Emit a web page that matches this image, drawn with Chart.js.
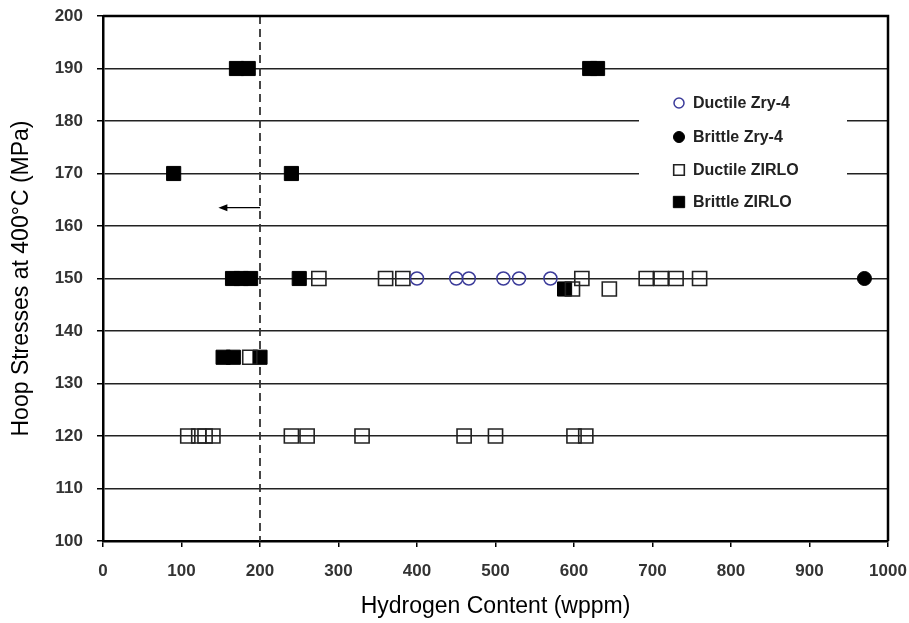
<!DOCTYPE html>
<html>
<head>
<meta charset="utf-8">
<title>Hoop stress vs hydrogen content</title>
<script src="https://cdn.jsdelivr.net/npm/chart.js@4/dist/chart.umd.min.js"></script>
<style>
  body { margin: 0; background: #fff; }
  #chart { display: block; }
</style>
</head>
<body>
<canvas id="chart" width="909" height="623"></canvas>
<script>
// ===== DATA =====
const xTicks = [0, 100, 200, 300, 400, 500, 600, 700, 800, 900, 1000];
const yTicks = [100, 110, 120, 130, 140, 150, 160, 170, 180, 190, 200];

// Ductile Zry-4 (open blue circles)
const ductileZry4H = [400, 450, 466, 510, 530, 570];
const ductileZry4S = [150, 150, 150, 150, 150, 150];

// Brittle Zry-4 (filled circle)
const brittleZry4H = [970];
const brittleZry4S = [150];

// Ductile ZIRLO (open squares)
const ductileZirloH = [275, 360, 382, 610, 692, 711, 730, 760, 598, 645, 187,
                       108, 122, 130, 140, 240, 260, 330, 460, 500, 600, 615];
const ductileZirloS = [150, 150, 150, 150, 150, 150, 150, 150, 148, 148, 135,
                       120, 120, 120, 120, 120, 120, 120, 120, 120, 120, 120];

// Brittle ZIRLO (filled squares)
const brittleZirloH = [170, 185, 620, 630, 90, 240, 165, 176, 188, 250, 588, 153, 166, 200];
const brittleZirloS = [190, 190, 190, 190, 170, 170, 150, 150, 150, 150, 148, 135, 135, 135];

// threshold line and arrow annotation
const thresholdH = 200;
const arrowFromH = 200;
const arrowToH = 147;
const arrowS = 163.5;

function toPoints(xs, ys) {
    return xs.map((x, i) => ({ x: x, y: ys[i] }));
}

// ===== PLUGINS =====
// dashed 200 wppm line, the arrow, and the frame on top/right
const annotations = {
    id: 'annotations',
    beforeDatasetsDraw(chart) {
        const { ctx, chartArea, scales } = chart;
        const x = scales.x.getPixelForValue(thresholdH);
        ctx.save();
        ctx.strokeStyle = '#333';
        ctx.lineWidth = 1.8;
        ctx.setLineDash([8, 5]);
        ctx.beginPath();
        ctx.moveTo(x, chartArea.top);
        ctx.lineTo(x, chartArea.bottom);
        ctx.stroke();
        ctx.setLineDash([]);

        // arrow pointing left
        const x0 = scales.x.getPixelForValue(arrowFromH);
        const x1 = scales.x.getPixelForValue(arrowToH);
        const y = scales.y.getPixelForValue(arrowS);
        ctx.strokeStyle = '#000';
        ctx.lineWidth = 1.3;
        ctx.beginPath();
        ctx.moveTo(x0, y);
        ctx.lineTo(x1 + 6, y);
        ctx.stroke();
        ctx.fillStyle = '#000';
        ctx.beginPath();
        ctx.moveTo(x1, y);
        ctx.lineTo(x1 + 9, y - 3.5);
        ctx.lineTo(x1 + 9, y + 3.5);
        ctx.closePath();
        ctx.fill();
        ctx.restore();
    },
    afterDatasetsDraw(chart) {
        const { ctx, chartArea } = chart;
        ctx.save();
        ctx.strokeStyle = '#000';
        ctx.lineWidth = 2.5;
        ctx.beginPath();
        ctx.moveTo(chartArea.left, chartArea.top);
        ctx.lineTo(chartArea.right, chartArea.top);
        ctx.lineTo(chartArea.right, chartArea.bottom);
        ctx.stroke();
        ctx.restore();
    }
};

// legend box drawn inside the plot
const insideLegend = {
    id: 'insideLegend',
    afterDatasetsDraw(chart) {
        const { ctx, chartArea } = chart;
        const boxLeft = chartArea.left + 536;
        const boxTop = chartArea.top + 72;
        ctx.save();
        ctx.fillStyle = '#fff';
        ctx.fillRect(boxLeft, boxTop, 208, 130);

        const rows = [87, 121, 154, 186];
        chart.data.datasets.forEach((ds, i) => {
            const y = chartArea.top + rows[i];
            const mx = boxLeft + 40;
            ctx.fillStyle = ds.backgroundColor;
            ctx.strokeStyle = ds.borderColor;
            ctx.lineWidth = ds.borderWidth;
            Chart.helpers.drawPoint(ctx, {
                pointStyle: ds.pointStyle,
                radius: ds.legendRadius,
                borderWidth: ds.borderWidth,
                rotation: 0
            }, mx, y);

            ctx.fillStyle = '#222';
            ctx.font = 'bold 16px "Liberation Sans", Arial, sans-serif';
            ctx.textAlign = 'left';
            ctx.textBaseline = 'middle';
            ctx.fillText(ds.label, boxLeft + 54, y + 1);
        });
        ctx.restore();
    }
};

// ===== CHART =====
const tickFont = { family: '"Liberation Sans", Arial, sans-serif', size: 17, weight: 'bold' };
const titleFont = { family: '"Liberation Sans", Arial, sans-serif', size: 23 };

new Chart(document.getElementById('chart'), {
    type: 'scatter',
    data: {
        datasets: [
            {
                label: 'Ductile Zry-4',
                data: toPoints(ductileZry4H, ductileZry4S),
                pointStyle: 'circle',
                pointRadius: 6.5,
                legendRadius: 5,
                borderWidth: 1.5,
                borderColor: '#3b3b9a',
                backgroundColor: 'rgba(255,255,255,0)'
            },
            {
                label: 'Brittle Zry-4',
                data: toPoints(brittleZry4H, brittleZry4S),
                pointStyle: 'circle',
                pointRadius: 7,
                legendRadius: 5.5,
                borderWidth: 1,
                borderColor: '#000',
                backgroundColor: '#000'
            },
            {
                label: 'Ductile ZIRLO',
                data: toPoints(ductileZirloH, ductileZirloS),
                pointStyle: 'rect',
                pointRadius: 10,
                legendRadius: 7.5,
                borderWidth: 1.6,
                borderColor: '#222',
                backgroundColor: 'rgba(255,255,255,0)'
            },
            {
                label: 'Brittle ZIRLO',
                data: toPoints(brittleZirloH, brittleZirloS),
                pointStyle: 'rect',
                pointRadius: 10,
                legendRadius: 8,
                borderWidth: 1,
                borderColor: '#000',
                backgroundColor: '#000'
            }
        ]
    },
    options: {
        responsive: false,
        animation: false,
        devicePixelRatio: 1,
        layout: { padding: { left: 0, right: 21, top: 16, bottom: 0 } },
        plugins: {
            legend: { display: false },
            tooltip: { enabled: false }
        },
        scales: {
            x: {
                type: 'linear',
                min: 0,
                max: 1000,
                afterBuildTicks: (scale) => { scale.ticks = xTicks.map(v => ({ value: v })); },
                afterFit: (scale) => { scale.height = 82; scale.paddingLeft = 0; scale.paddingRight = 0; },
                ticks: {
                    font: tickFont,
                    color: '#333',
                    padding: 14,
                    maxRotation: 0,
                    callback: (v) => String(v)
                },
                grid: { drawOnChartArea: false, tickLength: 6, tickColor: '#000', lineWidth: 1.5 },
                border: { color: '#000', width: 2.5 },
                title: {
                    display: true,
                    text: 'Hydrogen Content (wppm)',
                    font: titleFont,
                    color: '#000',
                    padding: { top: 0, bottom: 3 }
                }
            },
            y: {
                type: 'linear',
                min: 100,
                max: 200,
                afterBuildTicks: (scale) => { scale.ticks = yTicks.map(v => ({ value: v })); },
                afterFit: (scale) => { scale.width = 103; scale.paddingTop = 0; scale.paddingBottom = 0; },
                ticks: { font: tickFont, color: '#333', padding: 14, callback: (v) => String(v) },
                grid: { color: '#222', lineWidth: 1.5, tickLength: 6, tickColor: '#000' },
                border: { color: '#000', width: 2.5 },
                title: {
                    display: true,
                    text: 'Hoop Stresses at 400°C (MPa)',
                    font: titleFont,
                    color: '#000',
                    padding: { top: 8, bottom: 0 }
                }
            }
        }
    },
    plugins: [annotations, insideLegend]
});
</script>
</body>
</html>
